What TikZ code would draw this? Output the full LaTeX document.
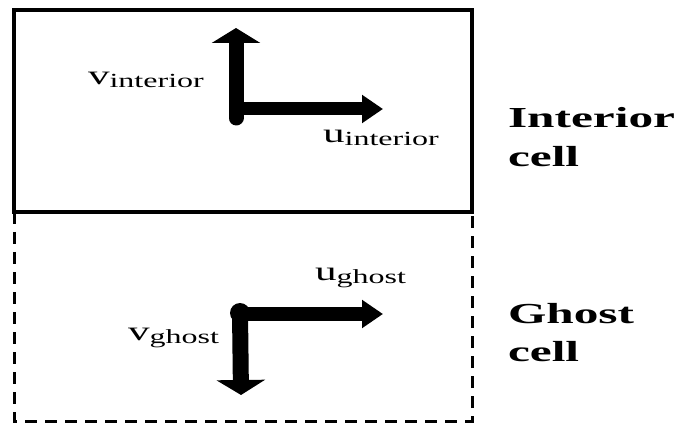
\documentclass[tikz,border=0pt]{standalone}
\usepackage{fontspec}
\setmainfont{Liberation Serif}
\usepackage{graphicx}
\usetikzlibrary{arrows.meta}
\newcommand{\velabel}[2]{\scalebox{1.6}[1]{\fontsize{27}{27}\selectfont #1\raisebox{-3pt}{\fontsize{20}{20}\selectfont #2}}}
\newcommand{\celllabel}[1]{\scalebox{1.7}[1]{\fontsize{29}{29}\selectfont\bfseries #1}}
\tikzset{
  lbl/.style={anchor=base west, inner sep=0pt, outer sep=0pt},
  vecbig/.style={line width=15pt, -{Triangle[length=15pt,width=48pt]}},
  vechor/.style={line width=13pt, -{Triangle[length=21pt,width=27pt]}},
}
\begin{document}
\begin{tikzpicture}[x=1pt,y=-1pt]
\useasboundingbox (0,0) rectangle (676,427);
% cells
\draw[line width=4pt] (14,10) rectangle (472,212);
\draw[line width=3pt, dash pattern=on 12pt off 8pt] (14,212) rectangle (472,421);
% interior vectors
\coordinate (civ) at (236,118);
\coordinate (vti) at (236,28);
\coordinate (uti) at (383,109);
\coordinate (chi) at (236,109);
\draw[vecbig, line cap=round] (civ) -- (vti);
\draw[vechor] (chi) -- (uti);
% ghost vectors
\coordinate (cg) at (240,313);
\coordinate (vtg) at (241,395);
\coordinate (utg) at (383,314);
\coordinate (cgh) at (240,314);
\draw[vecbig, line width=16pt] (cg) -- (vtg);
\draw[vechor, line width=14pt] (cgh) -- (utg);
\fill (cg) circle (10pt);
% labels
\node[lbl] (vint) at (88,85) {\velabel{v}{interior}};
\node[lbl] (uint) at (323,143) {\velabel{u}{interior}};
\node[lbl] (ugh) at (315,280) {\velabel{u}{ghost}};
\node[lbl] (vgh) at (128,340) {\velabel{v}{ghost}};
\node[lbl] (int1) at (508,128) {\celllabel{Interior}};
\node[lbl] (int2) at (508,167) {\celllabel{cell}};
\node[lbl] (gh1) at (508,323) {\celllabel{Ghost}};
\node[lbl] (gh2) at (508,361) {\celllabel{cell}};
\end{tikzpicture}
\end{document}
